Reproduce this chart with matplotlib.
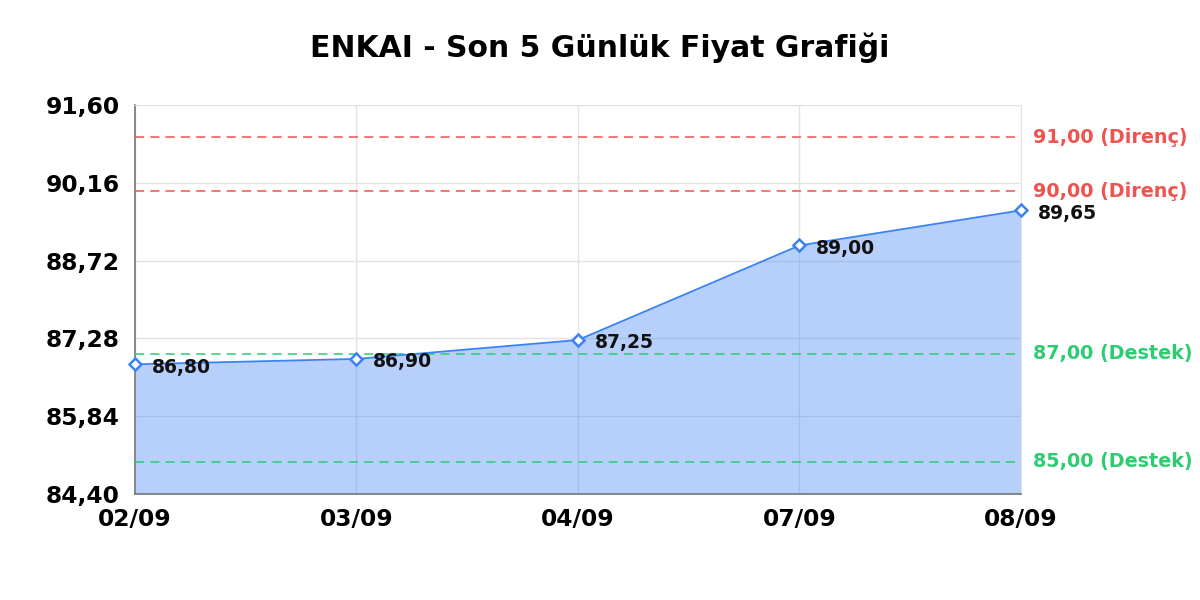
import numpy as np
import matplotlib.pyplot as plt
from matplotlib.ticker import FixedLocator, FuncFormatter

dates = ["02/09", "03/09", "04/09", "07/09", "08/09"]
prices = [86.80, 86.90, 87.25, 89.00, 89.65]
resistance = [91.00, 90.00]
support = [87.00, 85.00]
y_ticks = [84.40, 85.84, 87.28, 88.72, 90.16, 91.60]

blue = "#3b82f6"
red = "#ef5350"
green = "#2ecc71"


def tr(v):
    return "{:.2f}".format(v).replace(".", ",")


fig = plt.figure(figsize=(12, 6), dpi=100)
ax = fig.add_axes([0.1125, 0.1767, 0.7383, 0.6483])

x = np.arange(len(dates))
ax.fill_between(x, prices, y_ticks[0], color=blue, alpha=0.37, lw=0, zorder=2)
ax.plot(x, prices, color=blue, lw=1.3, zorder=4)
ax.plot(x, prices, ls="none", marker="D", ms=6.5, mfc="white", mec=blue,
        mew=1.8, zorder=5, clip_on=False)

for xi, p in zip(x, prices):
    ax.annotate(tr(p), (xi, p), xytext=(12, -2), textcoords="offset points",
                ha="left", va="center", fontsize=13.5, fontweight="bold",
                color="#111111", zorder=6, annotation_clip=False)

for v in resistance:
    ax.axhline(v, color=red, ls=(0, (6, 4)), lw=1.1, zorder=3)
    ax.annotate(tr(v) + " (Direnç)", (1, v), xycoords=("axes fraction", "data"),
                xytext=(9, 0), textcoords="offset points", ha="left", va="center",
                fontsize=13.8, fontweight="bold", color=red)
for v in support:
    ax.axhline(v, color=green, ls=(0, (6, 4)), lw=1.1, zorder=3)
    ax.annotate(tr(v) + " (Destek)", (1, v), xycoords=("axes fraction", "data"),
                xytext=(9, 0), textcoords="offset points", ha="left", va="center",
                fontsize=13.8, fontweight="bold", color=green)

ax.set_xlim(0, len(dates) - 1)
ax.set_ylim(y_ticks[0], y_ticks[-1])
ax.set_xticks(x)
ax.set_xticklabels(dates)
ax.yaxis.set_major_locator(FixedLocator(y_ticks))
ax.yaxis.set_major_formatter(FuncFormatter(lambda v, pos: tr(v)))
ax.tick_params(length=0, labelsize=16.8)
ax.tick_params(axis="y", pad=11)
ax.tick_params(axis="x", pad=10)
for lab in ax.get_xticklabels() + ax.get_yticklabels():
    lab.set_fontweight("bold")

ax.grid(True, color="#e3e3e3", lw=1, zorder=0)
ax.set_axisbelow(True)
for s in ["top", "right"]:
    ax.spines[s].set_color("#e3e3e3")
for s in ["left", "bottom"]:
    ax.spines[s].set_color("#777777")
    ax.spines[s].set_linewidth(1.2)

fig.suptitle("ENKAI - Son 5 Günlük Fiyat Grafiği", fontsize=21.5, fontweight="bold",
             y=0.92, va="center")

fig.savefig("out.png", dpi=100)
